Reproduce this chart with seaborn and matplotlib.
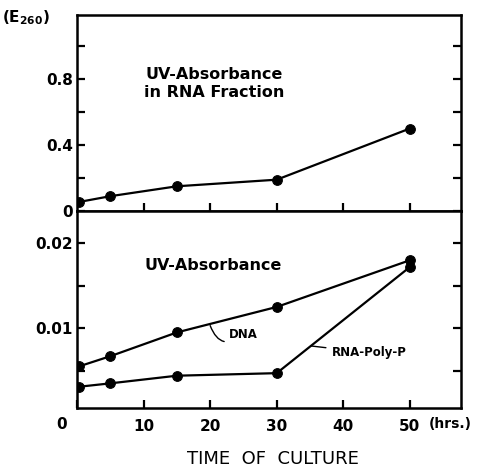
import matplotlib
matplotlib.use('Agg')
import matplotlib.pyplot as plt
import seaborn as sns

# --- data ---
hours = [0.3, 5, 15, 30, 50]
rna_fraction = [0.055, 0.09, 0.15, 0.19, 0.50]
dna = [0.0055, 0.0067, 0.0095, 0.0125, 0.0180]
rna_polyp = [0.0031, 0.0035, 0.0044, 0.0047, 0.0172]

x_ticks = [0, 10, 20, 30, 40, 50]
top_yticks = [0, 0.4, 0.8]
top_ytick_labels = ['0', '0.4', '0.8']
low_yticks = [0.01, 0.02]
low_ytick_labels = ['0.01', '0.02']

sns.set_theme(style='ticks')
plt.rcParams['font.family'] = ['DejaVu Sans']
plt.rcParams['text.color'] = 'black'

fig = plt.figure(figsize=(4.91, 4.70), dpi=100)
ax_top = fig.add_axes([0.157, 0.551, 0.782, 0.417])
ax_low = fig.add_axes([0.157, 0.132, 0.782, 0.419])

line_kw = dict(color='black', marker='o', markersize=7, linewidth=1.6,
               markeredgecolor='black', markerfacecolor='black')

sns.lineplot(x=hours, y=rna_fraction, ax=ax_top, **line_kw)
sns.lineplot(x=hours, y=dna, ax=ax_low, **line_kw)
sns.lineplot(x=hours, y=rna_polyp, ax=ax_low, **line_kw)

for ax in (ax_top, ax_low):
    ax.set_xlim(0, 57.7)
    for s in ax.spines.values():
        s.set_visible(True)
        s.set_linewidth(1.8)
        s.set_color('black')
    ax.tick_params(direction='in', length=6, width=1.6, colors='black',
                   left=True, bottom=True, top=False, right=True,
                   which='both', labelsize=11)
    ax.set_xlabel('')
    ax.set_ylabel('')

# top panel
ax_top.set_ylim(0, 1.188)
ax_top.set_yticks(top_yticks)
ax_top.set_yticklabels(top_ytick_labels, fontweight='bold')
ax_top.set_yticks([0.2, 0.6, 1.0], minor=True)
ax_top.set_xticks(x_ticks[1:])
ax_top.set_xticklabels([])
ax_top.tick_params(axis='y', pad=3)
ax_top.text(20.6, 0.77, 'UV-Absorbance\nin RNA Fraction', ha='center', va='center',
            fontsize=11.5, fontweight='bold', linespacing=1.25)

# lower panel
ax_low.set_ylim(0.0006, 0.0238)
ax_low.set_yticks(low_yticks)
ax_low.set_yticklabels(low_ytick_labels, fontweight='bold')
ax_low.set_yticks([0.005, 0.015], minor=True)
ax_low.set_xticks(x_ticks)
ax_low.set_xticklabels(['', '10', '20', '30', '40', '50'], fontweight='bold')
ax_low.tick_params(axis='x', pad=8)
ax_low.tick_params(axis='y', pad=3)
ax_low.text(-2.3, -0.0005, '0', ha='center', va='top', fontsize=11,
            fontweight='bold', clip_on=False)
ax_low.text(52.8, -0.0005, '(hrs.)', ha='left', va='top', fontsize=10,
            fontweight='bold', clip_on=False)
ax_low.text(20.5, 0.0174, 'UV-Absorbance', ha='center', va='center',
            fontsize=11.5, fontweight='bold')

ax_low.annotate('DNA', xy=(20.0, 0.0103), xytext=(22.8, 0.0093),
                fontsize=8.5, fontweight='bold', va='center',
                arrowprops=dict(arrowstyle='-', color='black', lw=1, shrinkA=1,
                                connectionstyle='arc3,rad=-0.7', shrinkB=0))
ax_low.annotate('RNA-Poly-P', xy=(35.2, 0.0079), xytext=(38.3, 0.0071),
                fontsize=8.5, fontweight='bold', va='center',
                arrowprops=dict(arrowstyle='-', color='black', lw=1, shrinkA=2, shrinkB=0))

fig.text(0.005, 0.962, r'(E$_{\mathregular{260}}$)', fontsize=11, fontweight='bold',
         va='center', ha='left')
fig.text(0.555, 0.023, 'TIME  OF  CULTURE', ha='center', va='center', fontsize=13)

fig.savefig('out.png', dpi=100)
